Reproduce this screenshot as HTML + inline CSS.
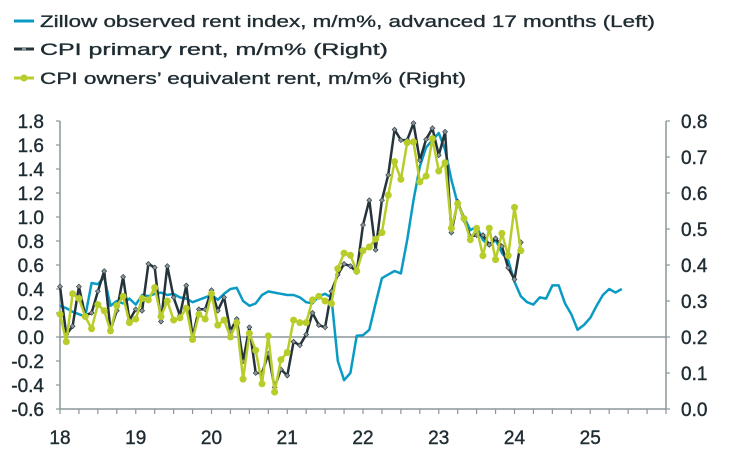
<!DOCTYPE html>
<html><head><meta charset="utf-8"><style>
html,body{margin:0;padding:0;background:#fff;}
svg{display:block;font-family:"Liberation Sans",sans-serif;}
</style></head><body>
<svg id="chart" width="730" height="452" viewBox="0 0 730 452" xmlns="http://www.w3.org/2000/svg">
<g fill="#1f2d33" font-size="17" stroke="#1f2d33" stroke-width="0.35">
 <g>
  <line x1="14" y1="21" x2="34" y2="21" stroke="#0a9bc4" stroke-width="3"/>
  <text x="40" y="27" textLength="615" lengthAdjust="spacingAndGlyphs">Zillow observed rent index, m/m%, advanced 17 months (Left)</text>
 </g>
 <g>
  <line x1="14" y1="49" x2="34" y2="49" stroke="#24343a" stroke-width="3"/>
  <circle cx="24" cy="49" r="2" fill="#8a9599" stroke="none"/>
  <text x="40" y="55" textLength="348" lengthAdjust="spacingAndGlyphs">CPI primary rent, m/m% (Right)</text>
 </g>
 <g>
  <line x1="14" y1="78" x2="34" y2="78" stroke="#b8cc2a" stroke-width="3"/>
  <circle cx="24" cy="78" r="3.5" fill="#b8cc2a" stroke="none"/>
  <text x="40" y="84" textLength="426" lengthAdjust="spacingAndGlyphs">CPI owners’ equivalent rent, m/m% (Right)</text>
 </g>
</g>
<g id="axes"></g>
<g id="series"></g>
</svg>
<script>
const leftTicks = [1.8,1.6,1.4,1.2,1.0,0.8,0.6,0.4,0.2,0.0,-0.2,-0.4,-0.6];
const rightTicks = [0.8,0.7,0.6,0.5,0.4,0.3,0.2,0.1,0.0];
const yearLabels = ["18","19","20","21","22","23","24","25"];
// monthly, starting Jan 2018
const zillow = [0.26,0.24,0.21,0.19,0.17,0.45,0.44,0.50,0.26,0.30,0.28,0.32,0.27,0.35,0.34,0.36,0.37,0.35,0.36,0.33,0.32,0.29,0.31,0.33,0.35,0.31,0.36,0.40,0.41,0.30,0.26,0.28,0.35,0.38,0.37,0.36,0.35,0.35,0.33,0.29,0.28,0.34,0.36,0.33,-0.20,-0.36,-0.30,0.01,0.015,0.06,0.28,0.49,0.52,0.55,0.53,0.81,1.14,1.42,1.58,1.64,1.70,1.56,1.31,1.11,1.00,0.89,0.92,0.81,0.76,0.81,0.70,0.64,0.46,0.34,0.29,0.27,0.33,0.32,0.43,0.43,0.28,0.19,0.06,0.10,0.16,0.26,0.35,0.40,0.37,0.40];
const cpiRent = [0.34,0.207,0.23,0.34,0.26,0.267,0.327,0.383,0.22,0.273,0.367,0.247,0.277,0.273,0.403,0.393,0.243,0.397,0.31,0.26,0.343,0.2,0.277,0.277,0.33,0.273,0.31,0.217,0.25,0.133,0.227,0.10,0.10,0.153,0.06,0.11,0.093,0.187,0.177,0.207,0.267,0.233,0.227,0.327,0.373,0.403,0.397,0.38,0.511,0.58,0.442,0.58,0.65,0.776,0.747,0.747,0.794,0.691,0.749,0.78,0.705,0.77,0.49,0.576,0.525,0.479,0.483,0.483,0.456,0.474,0.452,0.392,0.36,0.463];
const cpiOer = [0.263,0.187,0.32,0.307,0.257,0.223,0.29,0.273,0.217,0.287,0.313,0.24,0.25,0.307,0.303,0.337,0.257,0.30,0.247,0.253,0.28,0.193,0.263,0.25,0.32,0.233,0.247,0.20,0.24,0.083,0.21,0.163,0.07,0.203,0.047,0.137,0.157,0.247,0.24,0.24,0.303,0.313,0.30,0.293,0.39,0.433,0.427,0.383,0.44,0.45,0.472,0.49,0.594,0.687,0.638,0.74,0.742,0.631,0.647,0.751,0.661,0.684,0.502,0.571,0.529,0.47,0.502,0.426,0.502,0.415,0.488,0.426,0.56,0.44];

const X0=60, X1=666, T0=2018, T1=2026;
const yTop=121, yBot=409;
function xScale(t){return X0+(t-T0)/(T1-T0)*(X1-X0);}
function yLeft(v){return yTop+(1.8-v)/2.4*(yBot-yTop);}
function yRight(v){return yTop+(0.8-v)/0.8*(yBot-yTop);}
function mx(i){return xScale(T0+i/12);}
const NS="http://www.w3.org/2000/svg";
function mk(tag,attrs,parent){const e=document.createElementNS(NS,tag);for(const k in attrs)e.setAttribute(k,attrs[k]);parent.appendChild(e);return e;}
const axes=document.getElementById('axes'), series=document.getElementById('series');
const AX="#8a9599", TXT="#1f2d33";
let zl=mk('line',{x1:X0,x2:X1,y1:yLeft(0),y2:yLeft(0),stroke:AX,'stroke-width':1.5},axes);


let la=mk('line',{x1:X0,x2:X0,y1:yTop,y2:yBot,stroke:AX,'stroke-width':1.5},axes);


let ra=mk('line',{x1:X1,x2:X1,y1:yTop,y2:yBot,stroke:AX,'stroke-width':1.5},axes);


let xa=mk('line',{x1:X0,x2:X1,y1:yBot,y2:yBot,stroke:AX,'stroke-width':1.5},axes);


leftTicks.forEach(v=>{
 const y=yLeft(v);
 mk('line',{x1:X0-4,x2:X0,y1:y,y2:y,stroke:AX,'stroke-width':1.2},axes);
 const t=mk('text',{x:X0-16,y:y+7,'text-anchor':'end','font-size':19,fill:TXT,stroke:TXT,'stroke-width':0.4},axes);
 t.textContent=v.toFixed(1);
 
 
});
rightTicks.forEach(v=>{
 const y=yRight(v);
 mk('line',{x1:X1,x2:X1+4,y1:y,y2:y,stroke:AX,'stroke-width':1.2},axes);
 const t=mk('text',{x:X1+15,y:y+7,'font-size':19,fill:TXT,stroke:TXT,'stroke-width':0.4},axes);
 t.textContent=v.toFixed(1);
 
 
});
for(let q=0;q<=32;q++){
 const x=xScale(T0+q/4);
 mk('line',{x1:x,x2:x,y1:yBot,y2:yBot+5,stroke:AX,'stroke-width':1.2},axes);
}
yearLabels.forEach((s,i)=>{
 const t=mk('text',{x:xScale(T0+i),y:yBot+35,'text-anchor':'middle','font-size':19,fill:TXT,stroke:TXT,'stroke-width':0.4},axes);
 t.textContent=s;
 
 
});
function path(arr,yf){return arr.map((v,i)=>(i?'L':'M')+mx(i).toFixed(1)+','+yf(v).toFixed(1)).join('');}
let pz=mk('path',{d:path(zillow,yLeft),fill:'none',stroke:'#0a9bc4','stroke-width':2.5,'stroke-linejoin':'round'},series);


let pr=mk('path',{d:path(cpiRent,yRight),fill:'none',stroke:'#24343a','stroke-width':2.5,'stroke-linejoin':'round'},series);


cpiRent.forEach((v,i)=>{
 const x=mx(i),y=yRight(v);
 const d=mk('path',{d:`M${x},${y-2.5}L${x+2.5},${y}L${x},${y+2.5}L${x-2.5},${y}Z`,fill:'#8a9599',stroke:'#24343a','stroke-width':0.6},series);
 
 
});
let po=mk('path',{d:path(cpiOer,yRight),fill:'none',stroke:'#b8cc2a','stroke-width':2.5,'stroke-linejoin':'round'},series);


cpiOer.forEach((v,i)=>{
 const c=mk('circle',{cx:mx(i),cy:yRight(v),r:3.5,fill:'#b8cc2a'},series);
 
 
});
</script>
</body></html>
